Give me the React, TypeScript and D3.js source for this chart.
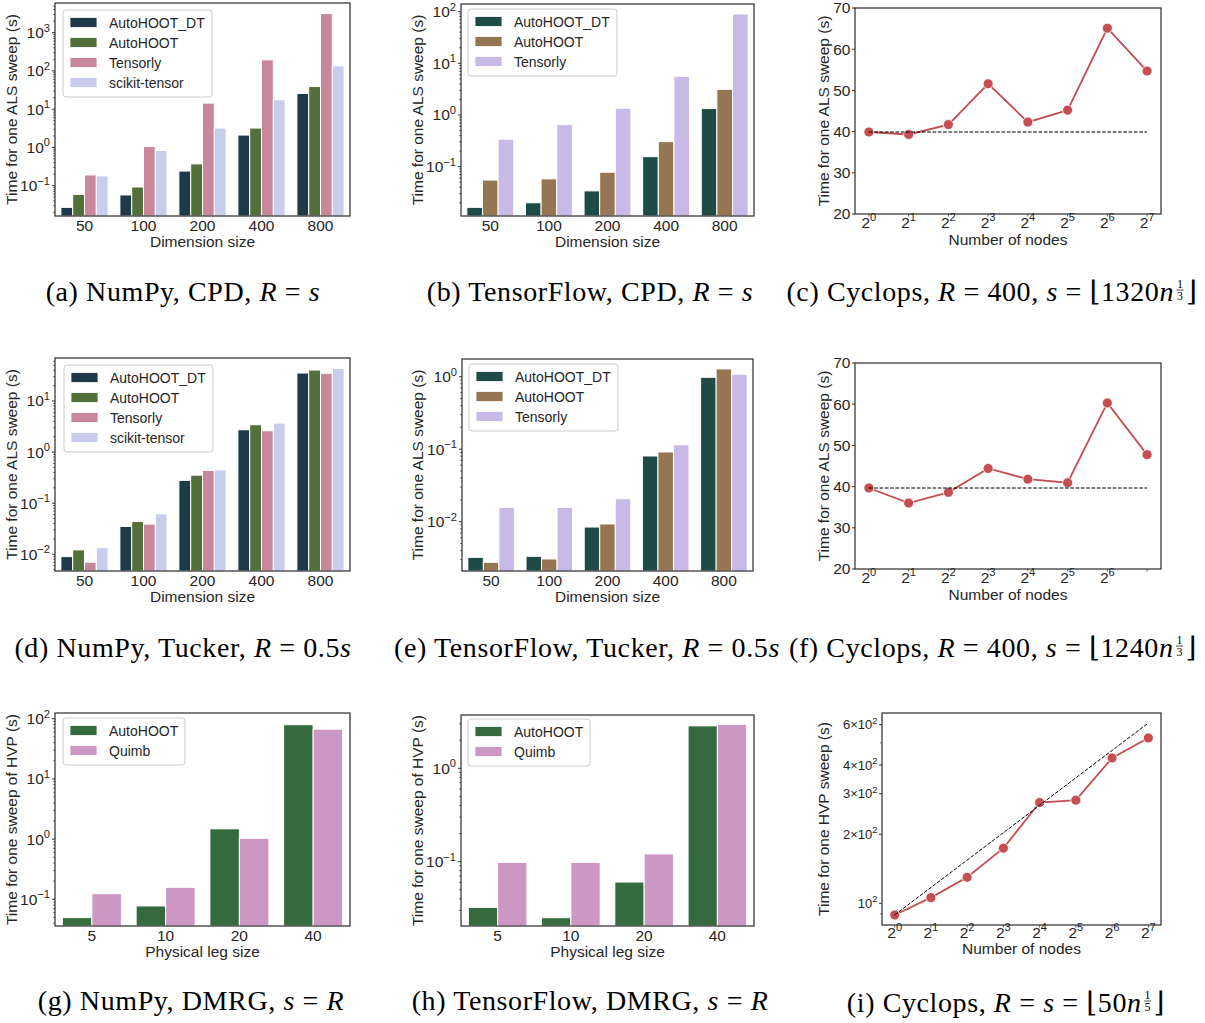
import React, { useEffect, useRef } from 'react';
import * as d3 from 'd3';

// ---------------- data ----------------
const dimSizes = ['50', '100', '200', '400', '800'];
const legSizes = ['5', '10', '20', '40'];
const nodeExponents = [0, 1, 2, 3, 4, 5, 6, 7];

// CPD, NumPy backend (seconds per ALS sweep)
const cpdNumpyDT = [0.027, 0.057, 0.24, 2.1, 25.7];
const cpdNumpyAH = [0.059, 0.092, 0.37, 3.2, 39];
const cpdNumpyTensorly = [0.19, 1.05, 14.4, 195, 3160];
const cpdNumpySktensor = [0.18, 0.83, 3.2, 17.6, 136];

// CPD, TensorFlow backend
const cpdTfDT = [0.0163, 0.02, 0.034, 0.156, 1.33];
const cpdTfAH = [0.055, 0.058, 0.078, 0.305, 3.14];
const cpdTfTensorly = [0.34, 0.65, 1.35, 5.6, 90];

// Tucker, NumPy backend
const tuckerNumpyDT = [0.009, 0.035, 0.28, 2.74, 35.4];
const tuckerNumpyAH = [0.0122, 0.044, 0.354, 3.44, 40.5];
const tuckerNumpyTensorly = [0.007, 0.039, 0.437, 2.62, 35];
const tuckerNumpySktensor = [0.0135, 0.062, 0.45, 3.7, 43.6];

// Tucker, TensorFlow backend
const tuckerTfDT = [0.00322, 0.00333, 0.00844, 0.0806, 0.98];
const tuckerTfAH = [0.00275, 0.00306, 0.0093, 0.0915, 1.28];
const tuckerTfTensorly = [0.0158, 0.0158, 0.0207, 0.115, 1.08];

// DMRG (seconds per HVP sweep)
const dmrgNumpyAH = [0.0495, 0.0775, 1.48, 79.4];
const dmrgNumpyQuimb = [0.124, 0.158, 1.03, 67];
const dmrgTfAH = [0.0324, 0.0251, 0.0605, 2.85];
const dmrgTfQuimb = [0.098, 0.098, 0.121, 2.96];

// Cyclops weak scaling
const cpdCyclops = [39.9, 39.3, 41.7, 51.6, 42.3, 45.2, 65.1, 54.7];
const tuckerCyclops = [39.66, 36.0, 38.6, 44.4, 41.8, 40.95, 60.3, 47.75];
const dmrgCyclops = [88.9, 105.9, 129.8, 173.8, 274.8, 281.3, 429.6, 525];
// ideal-scaling reference for DMRG: [log2 nodes, seconds] at both ends
const dmrgIdealEnds: [number, number][] = [[0, 89], [7, 610]];

// ---------------- style ----------------
const SANS = '"Liberation Sans", Arial, Helvetica, sans-serif';
const SERIF = '"Liberation Serif", "DejaVu Serif", serif';
const TXT = '#262626';
const SPINE = '#333333';
const FS = 15.5;
const LEG_FS = 14;
const TICK_PAD = 4.5;

const COL = {
  npDT: '#1e3a48',
  npAH: '#54703a',
  npTensorly: '#c8879a',
  npSk: '#c8cdee',
  tfDT: '#1e4b45',
  tfAH: '#957552',
  tfTensorly: '#c8bae6',
  dmAH: '#356a3e',
  dmQuimb: '#cc97c3',
  line: '#c44e52',
};

type Box = { x0: number; x1: number; y0: number; y1: number };
type Series = { name: string; values: number[]; color: string };
type Sel = d3.Selection<any, any, any, any>;

function powLabel(t: Sel, base: string, exp: string, fs: number) {
  t.append('tspan').text(base);
  t.append('tspan').attr('dy', -fs * 0.42).attr('font-size', fs * 0.72).text(exp);
}

function frame(g: Sel, b: Box) {
  g.append('rect')
    .attr('x', b.x0).attr('y', b.y0)
    .attr('width', b.x1 - b.x0).attr('height', b.y1 - b.y0)
    .attr('fill', 'none').attr('stroke', SPINE).attr('stroke-width', 1.25);
}

function yLabel(g: Sel, x: number, b: Box, text: string) {
  g.append('text')
    .attr('transform', `translate(${x},${(b.y0 + b.y1) / 2}) rotate(-90)`)
    .attr('text-anchor', 'middle').attr('font-size', FS).attr('fill', TXT)
    .text(text);
}

function xLabel(g: Sel, b: Box, y: number, text: string) {
  g.append('text')
    .attr('x', (b.x0 + b.x1) / 2).attr('y', y)
    .attr('text-anchor', 'middle').attr('font-size', FS).attr('fill', TXT)
    .text(text);
}

function logYAxis(g: Sel, b: Box, y: d3.ScaleLogarithmic<number, number>, fs: number) {
  const [lo, hi] = y.domain();
  const kLo = Math.floor(Math.log10(lo));
  const kHi = Math.ceil(Math.log10(hi));
  for (let k = kLo; k <= kHi; k++) {
    for (let m = 1; m <= 9; m++) {
      const v = m * Math.pow(10, k);
      if (v < lo * 0.9999 || v > hi * 1.0001) continue;
      const yy = y(v);
      const major = m === 1;
      g.append('line')
        .attr('x1', b.x0).attr('x2', b.x0 - (major ? 3 : 1.8))
        .attr('y1', yy).attr('y2', yy)
        .attr('stroke', SPINE).attr('stroke-width', major ? 1 : 0.8);
      if (major) {
        const t = g.append('text')
          .attr('x', b.x0 - TICK_PAD - 0.5).attr('y', yy + fs * 0.35)
          .attr('text-anchor', 'end').attr('font-size', fs).attr('fill', TXT);
        powLabel(t, '10', k < 0 ? '\u2212' + Math.abs(k) : String(k), fs);
      }
    }
  }
}

function legend(g: Sel, x: number, y: number, w: number, series: Series[]) {
  const h = 7 + 20 * series.length;
  g.append('rect')
    .attr('x', x).attr('y', y).attr('width', w).attr('height', h)
    .attr('rx', 3).attr('fill', 'white').attr('fill-opacity', 0.8)
    .attr('stroke', '#cccccc').attr('stroke-width', 1);
  series.forEach((s, i) => {
    const cy = y + 12.5 + 20 * i;
    g.append('rect')
      .attr('x', x + 7).attr('y', cy - 5).attr('width', 27).attr('height', 10)
      .attr('fill', s.color).attr('stroke', 'white').attr('stroke-width', 0.8);
    g.append('text')
      .attr('x', x + 46).attr('y', cy + 5)
      .attr('font-size', LEG_FS).attr('fill', TXT).text(s.name);
  });
}

function barPanel(
  svg: Sel,
  b: Box,
  logDomain: [number, number],
  cats: string[],
  series: Series[],
  o: { yLab: string; yLabX: number; xLab: string; tickY: number; xLabY: number; leg: [number, number, number] }
) {
  const g = svg.append('g');
  const x = d3.scaleLinear().domain([-0.5, cats.length - 0.5]).range([b.x0, b.x1]);
  const y = d3.scaleLog().domain([Math.pow(10, logDomain[0]), Math.pow(10, logDomain[1])]).range([b.y1, b.y0]);
  const bw = 0.8 / series.length;
  series.forEach((s, j) => {
    g.selectAll(null)
      .data(s.values)
      .enter()
      .append('rect')
      .attr('x', (_d: number, i: number) => x(i - 0.4 + j * bw))
      .attr('width', x(bw) - x(0))
      .attr('y', (d: number) => y(d))
      .attr('height', (d: number) => b.y1 - y(d))
      .attr('fill', s.color)
      .attr('stroke', 'white')
      .attr('stroke-width', 1);
  });
  frame(g, b);
  logYAxis(g, b, y, FS);
  cats.forEach((c, i) => {
    g.append('text')
      .attr('x', x(i)).attr('y', o.tickY)
      .attr('text-anchor', 'middle').attr('font-size', FS).attr('fill', TXT)
      .text(c);
  });
  xLabel(g, b, o.xLabY, o.xLab);
  yLabel(g, o.yLabX, b, o.yLab);
  legend(g, o.leg[0], o.leg[1], o.leg[2], series);
}

function linePanel(
  svg: Sel,
  b: Box,
  values: number[],
  o: {
    log: boolean;
    yDomain: [number, number];
    yTicks: { v: number; base?: string; exp?: string; label?: string }[];
    yMinor?: number[];
    yTickFs: number;
    yLab: string;
    yLabX: number;
    tickY: number;
    xLabY: number;
    hideLastLabel?: boolean;
    ref: [number, number][];
  }
) {
  const g = svg.append('g');
  const x = d3.scaleLinear().domain([-0.35, 7.35]).range([b.x0, b.x1]);
  const y: any = o.log
    ? d3.scaleLog().domain(o.yDomain).range([b.y1, b.y0])
    : d3.scaleLinear().domain(o.yDomain).range([b.y1, b.y0]);

  const line = d3.line<number>()
    .x((_d, i) => x(nodeExponents[i]))
    .y((d) => y(d));
  g.append('path')
    .attr('d', line(values) as string)
    .attr('fill', 'none').attr('stroke', COL.line).attr('stroke-width', 1.8);
  g.selectAll(null)
    .data(values)
    .enter()
    .append('circle')
    .attr('cx', (_d: number, i: number) => x(nodeExponents[i]))
    .attr('cy', (d: number) => y(d))
    .attr('r', 5)
    .attr('fill', COL.line)
    .attr('stroke', 'white').attr('stroke-width', 0.8);

  const refLine = d3.line<[number, number]>().x((d) => x(d[0])).y((d) => y(d[1]));
  g.append('path')
    .attr('d', refLine(o.ref) as string)
    .attr('fill', 'none').attr('stroke', '#000').attr('stroke-width', 1)
    .attr('stroke-dasharray', '3.7,1.6');

  frame(g, b);

  o.yTicks.forEach((t) => {
    const yy = y(t.v);
    g.append('line')
      .attr('x1', b.x0).attr('x2', b.x0 - 3).attr('y1', yy).attr('y2', yy)
      .attr('stroke', SPINE).attr('stroke-width', 1);
    const tx = g.append('text')
      .attr('x', b.x0 - TICK_PAD).attr('y', yy + o.yTickFs * 0.35)
      .attr('text-anchor', 'end').attr('font-size', o.yTickFs).attr('fill', TXT);
    if (t.exp !== undefined) powLabel(tx, t.base as string, t.exp, o.yTickFs);
    else tx.text(t.label as string);
  });
  (o.yMinor || []).forEach((v) => {
    const yy = y(v);
    g.append('line')
      .attr('x1', b.x0).attr('x2', b.x0 - 1.8).attr('y1', yy).attr('y2', yy)
      .attr('stroke', SPINE).attr('stroke-width', 0.8);
  });

  nodeExponents.forEach((e, i) => {
    const xx = x(e);
    g.append('line')
      .attr('x1', xx).attr('x2', xx).attr('y1', b.y1).attr('y2', b.y1 + 2.5)
      .attr('stroke', SPINE).attr('stroke-width', 0.8);
    if (o.hideLastLabel && i === nodeExponents.length - 1) return;
    const t = g.append('text')
      .attr('x', xx).attr('y', o.tickY)
      .attr('text-anchor', 'middle').attr('font-size', FS).attr('fill', TXT);
    powLabel(t, '2', String(e), FS);
  });
  xLabel(g, b, o.xLabY, 'Number of nodes');
  yLabel(g, o.yLabX, b, o.yLab);
}

type Part = { t?: string; i?: boolean; frac?: [string, string] };

function caption(svg: Sel, cx: number, y: number, parts: Part[]) {
  const g = svg.append('g')
    .attr('font-family', SERIF).attr('font-size', 28).attr('fill', '#000')
    .attr('letter-spacing', 0.6);
  let x = 0;
  parts.forEach((p) => {
    if (p.frac) {
      const fs = 12;
      const num = g.append('text').attr('font-size', fs).attr('letter-spacing', 0).attr('text-anchor', 'middle').text(p.frac[0]);
      const den = g.append('text').attr('font-size', fs).attr('letter-spacing', 0).attr('text-anchor', 'middle').text(p.frac[1]);
      const w = Math.max(
        (num.node() as SVGTextElement).getComputedTextLength(),
        (den.node() as SVGTextElement).getComputedTextLength()
      ) + 2;
      const mid = x + 2 + w / 2;
      num.attr('x', mid).attr('y', y - 13.5);
      den.attr('x', mid).attr('y', y - 1.5);
      g.append('line')
        .attr('x1', mid - w / 2 + 0.5).attr('x2', mid + w / 2 - 0.5)
        .attr('y1', y - 11).attr('y2', y - 11)
        .attr('stroke', '#000').attr('stroke-width', 0.7);
      x += w + 4;
    } else {
      const t = g.append('text')
        .attr('x', x).attr('y', y)
        .attr('font-style', p.i ? 'italic' : 'normal')
        .style('white-space', 'pre')
        .text(p.t as string);
      x += (t.node() as SVGTextElement).getComputedTextLength();
    }
  });
  g.attr('transform', `translate(${cx - x / 2},0)`);
}

export default function App() {
  const ref = useRef<SVGSVGElement | null>(null);

  useEffect(() => {
    const svg = d3.select(ref.current);
    svg.selectAll('*').remove();
    svg.attr('font-family', SANS);

    const npCPD: Series[] = [
      { name: 'AutoHOOT_DT', values: cpdNumpyDT, color: COL.npDT },
      { name: 'AutoHOOT', values: cpdNumpyAH, color: COL.npAH },
      { name: 'Tensorly', values: cpdNumpyTensorly, color: COL.npTensorly },
      { name: 'scikit-tensor', values: cpdNumpySktensor, color: COL.npSk },
    ];
    const tfCPD: Series[] = [
      { name: 'AutoHOOT_DT', values: cpdTfDT, color: COL.tfDT },
      { name: 'AutoHOOT', values: cpdTfAH, color: COL.tfAH },
      { name: 'Tensorly', values: cpdTfTensorly, color: COL.tfTensorly },
    ];
    const npTucker: Series[] = [
      { name: 'AutoHOOT_DT', values: tuckerNumpyDT, color: COL.npDT },
      { name: 'AutoHOOT', values: tuckerNumpyAH, color: COL.npAH },
      { name: 'Tensorly', values: tuckerNumpyTensorly, color: COL.npTensorly },
      { name: 'scikit-tensor', values: tuckerNumpySktensor, color: COL.npSk },
    ];
    const tfTucker: Series[] = [
      { name: 'AutoHOOT_DT', values: tuckerTfDT, color: COL.tfDT },
      { name: 'AutoHOOT', values: tuckerTfAH, color: COL.tfAH },
      { name: 'Tensorly', values: tuckerTfTensorly, color: COL.tfTensorly },
    ];
    const npDMRG: Series[] = [
      { name: 'AutoHOOT', values: dmrgNumpyAH, color: COL.dmAH },
      { name: 'Quimb', values: dmrgNumpyQuimb, color: COL.dmQuimb },
    ];
    const tfDMRG: Series[] = [
      { name: 'AutoHOOT', values: dmrgTfAH, color: COL.dmAH },
      { name: 'Quimb', values: dmrgTfQuimb, color: COL.dmQuimb },
    ];

    const alsLab = 'Time for one ALS sweep (s)';

    // row 1
    barPanel(svg, { x0: 55, x1: 350, y0: 3, y1: 216 }, [-1.795, 3.777], dimSizes, npCPD, {
      yLab: alsLab, yLabX: 17, xLab: 'Dimension size', tickY: 231, xLabY: 247, leg: [63, 10, 149],
    });
    barPanel(svg, { x0: 461, x1: 754, y0: 4, y1: 216 }, [-1.955, 2.148], dimSizes, tfCPD, {
      yLab: alsLab, yLabX: 423, xLab: 'Dimension size', tickY: 231, xLabY: 247, leg: [468, 9, 149],
    });
    const linTicks = [20, 30, 40, 50, 60, 70].map((v) => ({ v, label: String(v) }));
    linePanel(svg, { x0: 855, x1: 1161, y0: 8, y1: 214 }, cpdCyclops, {
      log: false, yDomain: [20, 70], yTicks: linTicks, yTickFs: FS,
      yLab: alsLab, yLabX: 829, tickY: 228, xLabY: 245,
      ref: [[0, cpdCyclops[0]], [7, cpdCyclops[0]]],
    });

    // row 2
    barPanel(svg, { x0: 55, x1: 350, y0: 358, y1: 571 }, [-2.327, 1.843], dimSizes, npTucker, {
      yLab: alsLab, yLabX: 17, xLab: 'Dimension size', tickY: 586, xLabY: 602, leg: [64, 365, 149],
    });
    barPanel(svg, { x0: 462, x1: 753, y0: 359, y1: 571 }, [-2.68, 0.244], dimSizes, tfTucker, {
      yLab: alsLab, yLabX: 423, xLab: 'Dimension size', tickY: 586, xLabY: 602, leg: [469, 364, 149],
    });
    linePanel(svg, { x0: 855, x1: 1161, y0: 363, y1: 569 }, tuckerCyclops, {
      log: false, yDomain: [20, 70], yTicks: linTicks, yTickFs: FS,
      yLab: alsLab, yLabX: 829, tickY: 583, xLabY: 600, hideLastLabel: true,
      ref: [[0, tuckerCyclops[0]], [7, tuckerCyclops[0]]],
    });

    // row 3
    barPanel(svg, { x0: 55, x1: 350, y0: 713, y1: 926 }, [-1.444, 2.095], legSizes, npDMRG, {
      yLab: 'Time for one sweep of HVP (s)', yLabX: 17, xLab: 'Physical leg size', tickY: 941, xLabY: 957, leg: [63, 718, 122],
    });
    barPanel(svg, { x0: 461, x1: 754, y0: 715, y1: 926 }, [-1.689, 0.571], legSizes, tfDMRG, {
      yLab: 'Time for one sweep of HVP (s)', yLabX: 423, xLab: 'Physical leg size', tickY: 941, xLabY: 957, leg: [468, 719, 122],
    });
    linePanel(svg, { x0: 882, x1: 1161, y0: 713, y1: 925 }, dmrgCyclops, {
      log: true, yDomain: [Math.pow(10, 1.9055), Math.pow(10, 2.829)],
      yTicks: [
        { v: 100, base: '10', exp: '2' },
        { v: 200, base: '2\u00d710', exp: '2' },
        { v: 300, base: '3\u00d710', exp: '2' },
        { v: 400, base: '4\u00d710', exp: '2' },
        { v: 600, base: '6\u00d710', exp: '2' },
      ],
      yMinor: [90, 500],
      yTickFs: 13,
      yLab: 'Time for one HVP sweep (s)', yLabX: 829, tickY: 938, xLabY: 954,
      ref: dmrgIdealEnds,
    });

    // sub-figure captions
    caption(svg, 183, 301, [{ t: '(a) NumPy, CPD, ' }, { t: 'R', i: true }, { t: ' = ' }, { t: 's', i: true }]);
    caption(svg, 590, 301, [{ t: '(b) TensorFlow, CPD, ' }, { t: 'R', i: true }, { t: ' = ' }, { t: 's', i: true }]);
    caption(svg, 992, 301, [
      { t: '(c) Cyclops, ' }, { t: 'R', i: true }, { t: ' = 400, ' }, { t: 's', i: true },
      { t: ' = \u230a1320' }, { t: 'n', i: true }, { frac: ['1', '3'] }, { t: '\u230b' },
    ]);
    caption(svg, 183, 657, [{ t: '(d) NumPy, Tucker, ' }, { t: 'R', i: true }, { t: ' = 0.5' }, { t: 's', i: true }]);
    caption(svg, 587, 657, [{ t: '(e) TensorFlow, Tucker, ' }, { t: 'R', i: true }, { t: ' = 0.5' }, { t: 's', i: true }]);
    caption(svg, 993, 657, [
      { t: '(f) Cyclops, ' }, { t: 'R', i: true }, { t: ' = 400, ' }, { t: 's', i: true },
      { t: ' = \u230a1240' }, { t: 'n', i: true }, { frac: ['1', '3'] }, { t: '\u230b' },
    ]);
    caption(svg, 191, 1010, [{ t: '(g) NumPy, DMRG, ' }, { t: 's', i: true }, { t: ' = ' }, { t: 'R', i: true }]);
    caption(svg, 590, 1010, [{ t: '(h) TensorFlow, DMRG, ' }, { t: 's', i: true }, { t: ' = ' }, { t: 'R', i: true }]);
    caption(svg, 1006, 1012, [
      { t: '(i) Cyclops, ' }, { t: 'R', i: true }, { t: ' = ' }, { t: 's', i: true },
      { t: ' = \u230a50' }, { t: 'n', i: true }, { frac: ['1', '5'] }, { t: '\u230b' },
    ]);
  }, []);

  return (
    <svg
      ref={ref}
      width={1205}
      height={1023}
      viewBox="0 0 1205 1023"
      style={{ position: 'absolute', left: 0, top: 0, background: 'white' }}
    />
  );
}
